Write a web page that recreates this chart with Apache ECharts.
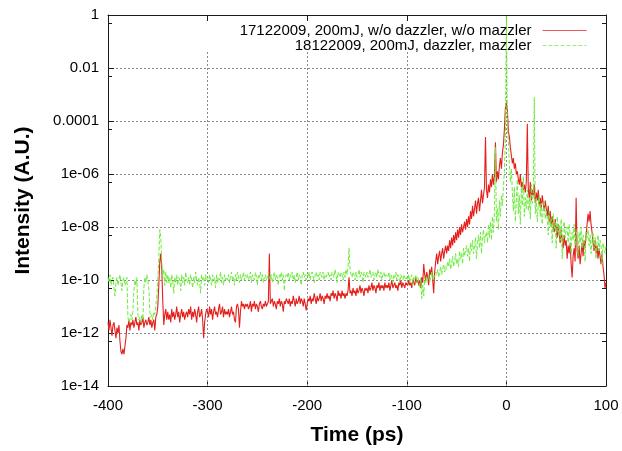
<!DOCTYPE html>
<html>
<head>
<meta charset="utf-8">
<script src="https://cdn.jsdelivr.net/npm/echarts@6/dist/echarts.min.js"></script>
<style>html,body{margin:0;padding:0;background:#fff}#c{width:622px;height:451px}</style>
</head>
<body>
<div id="c"></div>
<script>
// Time axis: samples every 1 ps from -400 ps to 100 ps
const timeStart = -400;
const timeStep = 1;
const xTicks = [-400, -300, -200, -100, 0, 100];
const yTickLabels = {"0": "1", "-2": "0.01", "-4": "0.0001", "-6": "1e-06", "-8": "1e-08", "-10": "1e-10", "-12": "1e-12", "-14": "1e-14"};
const seriesNames = ["17122009, 200mJ, w/o dazzler, w/o mazzler", "18122009, 200mJ, dazzler, mazzler"];

// log10 of intensity, one value per ps
const redLog10 = [
-11.6,-11.9,-11.5,-11.8,-12.1,-11.7,-11.6,-11.9,-12.2,-11.8,-12.0,-11.7,-12.3,-12.7,-12.8,-12.6,-12.8,-12.5,-12.2,-11.7,
-11.8,-11.5,-11.9,-11.6,-11.7,-11.5,-11.8,-11.6,-11.4,-11.7,-11.6,-11.9,-11.5,-11.7,-11.6,-11.4,-11.8,-11.6,-11.5,-11.7,
-11.6,-11.4,-11.7,-11.5,-11.8,-11.6,-11.5,-11.9,-11.4,-11.3,-11.0,-10.2,-9.3,-9.0,-9.6,-10.8,-11.7,-11.3,-11.1,-11.5,
-11.2,-11.5,-11.3,-11.6,-11.1,-11.4,-11.2,-11.5,-11.3,-11.0,-11.4,-11.2,-11.6,-11.3,-11.1,-11.4,-11.2,-11.5,-11.3,-11.2,
-11.4,-11.1,-11.3,-11.0,-11.5,-11.2,-11.4,-11.1,-11.3,-11.6,-11.2,-11.0,-11.4,-11.3,-11.1,-11.5,-12.2,-11.6,-11.3,-11.1,
-11.2,-11.4,-11.0,-11.3,-11.1,-11.5,-11.2,-11.0,-11.3,-11.2,-11.4,-11.1,-10.9,-11.3,-11.2,-11.0,-11.4,-11.1,-11.3,-11.2,
-11.3,-11.1,-11.4,-11.2,-11.0,-11.3,-11.2,-11.5,-11.6,-11.0,-10.9,-11.1,-11.8,-11.2,-10.8,-11.0,-10.9,-11.1,-10.9,-11.0,
-10.9,-11.1,-11.0,-10.8,-11.2,-10.9,-11.0,-10.8,-11.1,-10.9,-11.0,-11.2,-10.9,-10.8,-11.0,-11.1,-10.9,-11.0,-10.8,-11.0,
-10.9,-10.8,-9.0,-10.9,-10.9,-10.7,-11.0,-10.8,-10.9,-11.1,-10.8,-10.9,-10.7,-11.0,-10.8,-10.9,-11.2,-10.8,-10.9,-10.7,
-10.8,-10.9,-10.7,-11.0,-10.8,-10.9,-10.6,-10.8,-11.0,-10.7,-10.9,-10.8,-10.6,-10.9,-10.7,-10.8,-11.0,-10.7,-10.9,-11.15,
-10.9,-10.7,-10.8,-10.6,-10.9,-10.7,-10.8,-10.5,-10.7,-10.9,-10.6,-10.8,-10.7,-10.5,-10.8,-10.6,-10.7,-10.9,-10.6,-10.7,
-10.5,-10.7,-10.6,-10.8,-10.5,-10.6,-10.4,-10.7,-10.5,-10.6,-10.8,-10.4,-10.6,-10.5,-10.7,-10.4,-10.6,-10.5,-10.7,-10.5,
-10.6,-10.4,-9.9,-10.5,-10.4,-10.6,-10.3,-10.5,-10.4,-10.6,-10.3,-10.5,-10.4,-10.2,-10.5,-10.3,-10.4,-10.6,-10.3,-10.4,
-10.3,-10.5,-10.2,-10.4,-10.3,-10.1,-10.4,-10.2,-10.3,-10.5,-10.2,-10.3,-10.1,-10.4,-10.2,-10.3,-10.2,-10.4,-10.1,-10.3,
-10.2,-10.3,-10.1,-10.4,-10.2,-10.0,-10.3,-10.2,-10.1,-10.3,-10.2,-10.4,-10.1,-10.2,-10.0,-10.3,-10.1,-10.2,-10.3,-10.1,
-10.1,-10.2,-10.0,-10.2,-10.1,-10.3,-10.0,-10.1,-10.2,-9.9,-10.1,-10.0,-10.2,-10.0,-10.3,-9.9,-10.1,-9.4,-9.8,-10.0,
-9.7,-9.9,-10.2,-9.6,-9.8,-9.5,-10.0,-10.5,-9.7,-9.3,-9.0,-9.4,-9.1,-8.9,-9.3,-9.0,-8.8,-9.2,-8.9,-8.7,
-9.0,-8.7,-8.9,-8.5,-8.8,-8.4,-8.7,-8.3,-8.6,-8.2,-8.5,-8.1,-8.4,-8.0,-8.3,-7.9,-8.2,-8.0,-7.8,-8.1,
-7.7,-8.0,-7.6,-7.9,-7.4,-7.7,-7.2,-7.6,-7.3,-7.0,-7.5,-7.1,-6.9,-7.4,-7.0,-6.6,-7.1,-6.8,-6.5,-4.6,
-6.6,-6.9,-6.4,-6.7,-6.2,-6.5,-6.0,-6.4,-6.1,-4.8,-6.3,-5.9,-6.2,-5.7,-5.4,-5.8,-5.2,-4.9,-4.3,-3.5,
-3.3,
-3.6,-4.4,-4.6,-5.0,-5.3,-5.6,-5.4,-5.8,-5.6,-6.0,-5.9,-6.2,-6.4,-6.0,-6.5,-6.3,-6.6,-6.4,-6.7,-6.3,
-4.1,-6.6,-6.9,-6.3,-7.0,-6.6,-6.8,-6.4,-7.1,-6.7,-7.0,-6.6,-7.2,-6.9,-7.3,-6.8,-7.1,-7.4,-7.0,-7.3,
-7.6,-7.2,-7.8,-7.4,-8.0,-7.6,-7.9,-8.2,-7.7,-8.1,-8.4,-7.9,-8.3,-8.6,-8.1,-8.5,-8.8,-8.3,-8.7,-8.5,
-9.2,-8.7,-9.0,-8.6,-9.4,-9.9,-9.1,-8.8,-9.3,-6.9,-8.9,-9.2,-8.7,-9.4,-9.0,-8.6,-9.1,-8.5,-8.8,-8.3,
-7.9,-7.5,-7.8,-7.4,-7.9,-8.2,-8.6,-8.9,-8.5,-9.0,-8.7,-9.2,-8.8,-9.1,-9.4,-9.0,-9.5,-9.8,-10.3,-10.1
];

const greenLog10 = [
-9.9,-10.1,-9.8,-10.2,-10.0,-9.9,-10.3,-10.6,-10.1,-9.9,-10.2,-10.0,-9.8,-10.1,-10.4,-10.0,-9.9,-10.2,-10.1,-9.9,
-11.4,-11.6,-11.5,-11.3,-11.5,-11.2,-10.4,-10.0,-10.2,-9.9,-11.3,-11.5,-11.4,-11.6,-11.3,-11.5,-10.3,-9.9,-10.1,-9.8,
-10.0,-10.3,-11.2,-11.4,-11.3,-11.5,-11.2,-11.3,-11.0,-10.6,-10.0,-9.2,-8.1,-8.4,-9.3,-9.9,-9.6,-10.2,-9.7,-10.1,
-9.8,-10.1,-9.9,-10.3,-9.8,-10.0,-10.5,-9.9,-10.1,-9.8,-10.2,-9.9,-10.0,-10.4,-9.8,-10.1,-9.9,-10.2,-9.7,-10.0,
-10.1,-9.9,-10.2,-9.8,-10.0,-10.3,-9.9,-10.1,-9.7,-10.0,-10.2,-9.9,-10.1,-10.5,-9.8,-10.0,-9.9,-10.2,-9.8,-10.0,
-9.9,-10.1,-9.8,-10.0,-10.2,-9.8,-10.0,-9.9,-10.3,-9.8,-10.1,-9.9,-10.0,-9.7,-10.1,-9.9,-10.2,-9.8,-10.0,-9.9,
-10.0,-9.8,-10.1,-9.9,-9.7,-10.0,-9.9,-10.2,-9.8,-10.0,-9.7,-9.9,-10.1,-9.8,-10.0,-9.9,-9.7,-10.0,-9.8,-9.9,
-9.8,-10.0,-9.9,-9.7,-10.1,-9.8,-9.9,-10.0,-9.7,-9.9,-10.2,-9.8,-9.9,-9.7,-10.0,-9.8,-10.1,-9.9,-9.8,-10.0,
-9.9,-9.7,-9.9,-10.0,-9.8,-10.1,-9.9,-9.7,-10.0,-9.8,-9.9,-10.2,-9.8,-9.9,-9.7,-10.0,-9.8,-10.4,-9.9,-9.8,
-9.9,-9.7,-10.0,-9.8,-9.9,-9.7,-10.0,-9.8,-10.1,-9.9,-9.7,-10.0,-9.8,-9.9,-10.2,-9.8,-9.7,-9.9,-9.8,-10.0,
-9.8,-9.9,-9.7,-10.0,-9.8,-9.7,-9.9,-10.1,-9.8,-9.7,-9.9,-9.8,-10.0,-9.7,-9.8,-9.9,-9.7,-10.0,-9.8,-9.9,
-9.8,-9.7,-9.9,-9.8,-10.0,-9.7,-9.8,-9.9,-9.6,-9.8,-10.1,-9.7,-9.8,-9.9,-9.7,-9.8,-10.0,-9.7,-9.9,-9.6,
-9.8,-9.5,-8.8,-9.6,-9.8,-9.9,-9.7,-9.8,-10.0,-9.7,-9.9,-9.8,-9.6,-9.9,-9.7,-9.8,-10.1,-9.7,-9.8,-9.9,
-9.7,-9.9,-9.8,-9.6,-9.9,-9.8,-9.7,-10.0,-9.8,-9.7,-9.9,-9.6,-9.8,-9.9,-9.7,-10.0,-9.8,-9.7,-9.9,-9.8,
-9.8,-9.9,-9.7,-10.0,-9.8,-9.9,-10.1,-9.8,-9.9,-9.7,-10.0,-9.8,-9.9,-10.1,-9.8,-9.9,-10.0,-9.8,-9.9,-10.0,
-9.9,-10.0,-9.8,-10.1,-9.9,-9.8,-10.2,-9.9,-10.0,-9.8,-10.1,-9.9,-10.0,-10.3,-9.9,-10.7,-10.2,-10.6,-9.9,-10.1,
-9.9,-10.0,-9.8,-10.1,-9.9,-9.7,-10.0,-9.8,-9.9,-9.7,-9.8,-9.6,-9.9,-9.7,-9.5,-9.8,-9.6,-9.4,-9.7,-9.5,
-9.6,-9.3,-9.5,-9.2,-9.6,-9.4,-9.1,-9.5,-9.3,-9.0,-9.4,-9.2,-9.5,-8.9,-9.2,-9.0,-9.4,-8.8,-9.1,-8.9,
-8.7,-9.1,-8.8,-9.3,-8.6,-8.9,-8.5,-9.0,-8.7,-8.4,-9.2,-8.6,-8.3,-8.8,-8.2,-9.0,-8.4,-8.1,-8.6,-8.3,
-8.2,-8.6,-7.9,-8.4,-7.8,-8.5,-7.6,-8.2,-7.4,-5.0,-7.8,-7.3,-8.1,-7.0,-7.6,-6.8,-7.2,-6.5,-5.9,-4.6,
-0.05,
-4.2,-4.8,-5.6,-6.3,-5.8,-6.7,-7.4,-6.5,-7.8,-7.0,-6.2,-7.5,-6.8,-7.9,-6.5,-7.2,-6.1,-7.6,-6.9,-7.3,
-6.6,-7.4,-6.9,-7.7,-6.4,-7.1,-6.8,-3.1,-7.5,-6.9,-7.8,-7.2,-6.8,-7.6,-7.1,-7.9,-7.3,-7.0,-7.7,-7.4,
-7.6,-8.3,-7.4,-8.0,-7.7,-8.6,-7.5,-8.1,-7.8,-8.8,-7.6,-8.2,-7.9,-8.5,-7.7,-9.2,-8.0,-7.8,-8.4,-8.1,
-8.0,-8.6,-7.9,-8.3,-9.0,-8.2,-8.5,-7.9,-8.7,-8.1,-8.4,-9.1,-8.2,-8.6,-8.0,-8.8,-8.3,-8.5,-9.3,-8.2,
-8.4,-8.1,-8.7,-8.3,-9.0,-8.5,-8.2,-8.8,-8.4,-9.2,-8.6,-8.3,-8.9,-8.5,-8.7,-9.4,-8.6,-8.8,-9.0,-8.7
];

function toPairs(logs) {
  return logs.map((v, i) => [timeStart + i * timeStep, Math.pow(10, v)]);
}

const FONT = 'Liberation Sans, Arial, sans-serif';
const gridColor = '#8a8a8a';
const borderColor = '#1a1a1a';

const chart = echarts.init(document.getElementById('c'), null, {renderer: 'canvas'});

function yLabel(v) {
  const e = Math.round(Math.log10(v));
  return yTickLabels[String(e)] !== undefined ? yTickLabels[String(e)] : '';
}

const vGrid = xTicks.filter(t => t > -400 && t < 100).map(t => [
  {coord: [t, 1e-14]}, {coord: [t, 0.04]}
]);

const legendCommon = {
  right: 35, padding: 0, align: 'right',
  itemWidth: 44, itemHeight: 14, selectedMode: false,
  itemStyle: {opacity: 0},
  lineStyle: {width: 1, opacity: 0.75},
  textStyle: {fontFamily: FONT, fontSize: 15, color: '#000', padding: [0, 6, 0, 0]}
};

chart.setOption({
  animation: false,
  backgroundColor: '#fff',
  grid: {left: 108, right: 16, top: 15, bottom: 59, containLabel: false},
  legend: [
    Object.assign({data: [seriesNames[0]], top: 23}, legendCommon),
    Object.assign({data: [seriesNames[1]], top: 38}, legendCommon)
  ],
  xAxis: [
    {
      type: 'value', min: -400, max: 100, interval: 100, position: 'bottom',
      name: 'Time (ps)', nameLocation: 'middle', nameGap: 39,
      nameTextStyle: {fontFamily: FONT, fontSize: 21, fontWeight: 'bold', color: '#000'},
      axisLine: {show: true, onZero: false, lineStyle: {color: borderColor, width: 1}},
      axisTick: {show: true, inside: true, length: 6, lineStyle: {color: borderColor}},
      axisLabel: {fontFamily: FONT, fontSize: 15, color: '#000', margin: 12,
        formatter: v => String(v)},
      splitLine: {show: false}
    },
    {
      type: 'value', min: -400, max: 100, interval: 100, position: 'top',
      axisLine: {show: true, onZero: false, lineStyle: {color: borderColor, width: 1}},
      axisTick: {show: true, inside: true, length: 6, lineStyle: {color: borderColor}},
      axisLabel: {show: false},
      splitLine: {show: false}
    }
  ],
  yAxis: [
    {
      type: 'log', logBase: 10, min: 1e-14, max: 1, interval: 2, position: 'left',
      name: 'Intensity (A.U.)', nameLocation: 'middle', nameGap: 74, nameRotate: 90,
      nameTextStyle: {fontFamily: FONT, fontSize: 21, fontWeight: 'bold', color: '#000'},
      axisLine: {show: true, onZero: false, lineStyle: {color: borderColor, width: 1}},
      axisTick: {show: true, inside: true, length: 6, lineStyle: {color: borderColor}},
      minorTick: {show: true, splitNumber: 2, length: 4, lineStyle: {color: borderColor}},
      axisLabel: {fontFamily: FONT, fontSize: 15, color: '#000', margin: 9, formatter: yLabel},
      splitLine: {show: true, lineStyle: {color: gridColor, width: 1, type: [2, 2]}}
    },
    {
      type: 'log', logBase: 10, min: 1e-14, max: 1, interval: 2, position: 'right',
      axisLine: {show: true, onZero: false, lineStyle: {color: borderColor, width: 1}},
      axisTick: {show: true, inside: true, length: 6, lineStyle: {color: borderColor}},
      minorTick: {show: true, splitNumber: 2, length: 4, lineStyle: {color: borderColor}},
      axisLabel: {show: false},
      splitLine: {show: false}
    }
  ],
  series: [
    {
      name: seriesNames[0], type: 'line', xAxisIndex: 0, yAxisIndex: 0,
      data: toPairs(redLog10), symbol: 'none', showSymbol: false, z: 2,
      lineStyle: {color: '#e3201c', width: 1.1},
      itemStyle: {color: '#e3201c'},
      markLine: {
        silent: true, symbol: ['none', 'none'], z: 1, animation: false,
        label: {show: false},
        lineStyle: {color: gridColor, width: 1, type: [2, 2]},
        emphasis: {disabled: true},
        data: vGrid
      }
    },
    {
      name: seriesNames[1], type: 'line', xAxisIndex: 0, yAxisIndex: 0,
      data: toPairs(greenLog10), symbol: 'none', showSymbol: false, z: 3,
      lineStyle: {color: '#6cec3c', width: 1, type: [4, 2]},
      itemStyle: {color: '#6cec3c'}
    }
  ]
});
</script>
</body>
</html>
